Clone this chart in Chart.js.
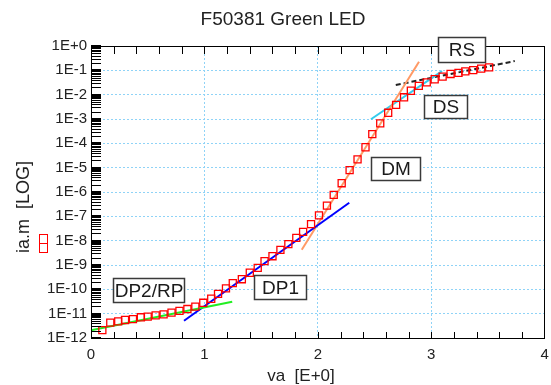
<!DOCTYPE html>
<html lang="en">
<head>
<meta charset="UTF-8">
<script src="https://cdn.jsdelivr.net/npm/chart.js"></script>
<title>F50381 Green LED</title>
<style>
  body { margin: 0; background: #fff; }
</style>
</head>
<body>
<canvas id="grafico" width="551" height="385"></canvas>
<script>
// measured data (va in V, ia.m in A)
const va = [0.10, 0.17, 0.24, 0.30, 0.37, 0.44, 0.50, 0.57, 0.64, 0.71, 0.78, 0.85, 0.92, 0.99, 1.06, 1.12,
  1.19, 1.25, 1.33, 1.40, 1.47, 1.53, 1.60, 1.67, 1.74, 1.81, 1.87, 1.94, 2.01, 2.08, 2.14, 2.21, 2.28,
  2.35, 2.42, 2.48, 2.55, 2.62, 2.69, 2.76, 2.82, 2.89, 2.96, 3.03, 3.10, 3.17, 3.24, 3.30, 3.37, 3.44, 3.51]
const ia = [2.1e-12, 4.3e-12, 4.8e-12, 5.5e-12, 6.0e-12, 7.1e-12, 7.6e-12, 8.5e-12, 9.3e-12, 1.1e-11, 1.3e-11,
  1.55e-11, 1.95e-11, 2.8e-11, 4.1e-11, 6.5e-11, 1.1e-10, 1.8e-10, 2.6e-10, 4.8e-10, 7.6e-10, 1.45e-9, 2.3e-9,
  4.2e-9, 7.2e-9, 1.3e-8, 2.3e-8, 4.8e-8, 1.1e-7, 2.75e-7, 7.6e-7, 2.3e-6, 7.9e-6, 2.2e-5, 6.9e-5, 2.4e-4,
  6.6e-4, 1.8e-3, 3.8e-3, 7.8e-3, 1.45e-2, 2.3e-2, 3.2e-2, 4.3e-2, 5.5e-2, 7.1e-2, 7.9e-2, 9.1e-2, 0.102, 0.117, 0.132]

// fit lines (end points)
const dp2X = [0, 1.245], dp2Y = [2.1e-12, 3.1e-11]
const dp1X = [0.82, 2.277], dp1Y = [5.1e-12, 3.6e-7]
const dmX = [1.858, 2.892], dmY = [4.2e-9, 0.226]
const dsX = [2.468, 3.095], dsY = [9.8e-4, 0.093]
const rsX = [2.687, 3.736], rsY = [0.025, 0.24]

// region labels
const regionNames = ['DP2/RP', 'DP1', 'DM', 'DS', 'RS']
const regionX = [0.505, 1.67, 2.686, 3.125, 3.266]
const regionY = [9.4e-11, 1.25e-10, 9.2e-6, 3.3e-3, 0.685]

const xTicks = [0, 1, 2, 3, 4]
const yTicks = [1e-12, 1e-11, 1e-10, 1e-9, 1e-8, 1e-7, 1e-6, 1e-5, 1e-4, 1e-3, 1e-2, 1e-1, 1]
const yMinor = [1, 2, 3, 4, 5, 6, 7, 8, 9]
const xMinor = [0.2, 0.4, 0.6, 0.8, 1, 1.2, 1.4, 1.6, 1.8, 2, 2.2, 2.4, 2.6, 2.8, 3, 3.2, 3.4, 3.6, 3.8]

const FONT = 'Liberation Sans, Arial, sans-serif'
const pts = (xs, ys) => xs.map((x, i) => ({ x: x, y: ys[i] }))

const fitLine = (xs, ys, color, dash) => ({
  data: pts(xs, ys),
  showLine: true,
  borderColor: color,
  borderWidth: 2,
  borderDash: dash || [],
  pointRadius: 0,
  fill: false
})

const boxSizes = { 'DP2/RP': [71, 24], 'DP1': [52, 24], 'DM': [49, 23], 'DS': [43, 23], 'RS': [47, 25] }

// axis frame and minor ticks
const frame = {
  id: 'frame',
  afterDatasetsDraw(chart) {
    const c = chart.ctx
    const a = chart.chartArea
    const sx = chart.scales.x, sy = chart.scales.y
    const L = a.left, T = a.top, B = a.bottom, R = a.right
    c.save()
    c.setLineDash([])
    c.strokeStyle = '#000000'
    c.lineWidth = 1
    c.beginPath()
    yTicks.forEach(base => {
      yMinor.forEach(k => {
        const v = base * k
        if (v > 1.0001) return
        const py = Math.round(sy.getPixelForValue(v)) + 0.5
        c.moveTo(L, py)
        c.lineTo(L + 10, py)
      })
    })
    xMinor.forEach(xv => {
      const px = Math.round(sx.getPixelForValue(xv)) + 0.5
      c.moveTo(px, B)
      c.lineTo(px, B - 6)
      c.moveTo(px, T)
      c.lineTo(px, T + 8)
    })
    c.stroke()
    // heavier decade ticks
    c.lineWidth = 2
    c.beginPath()
    yTicks.forEach(v => {
      const py = Math.round(sy.getPixelForValue(v))
      c.moveTo(L, py)
      c.lineTo(L + 10, py)
    })
    c.stroke()
    c.lineWidth = 1
    c.strokeRect(Math.round(L) + 0.5, Math.round(T) + 0.5, Math.round(R - L) - 1, Math.round(B - T))
    c.restore()
  }
}

const decorations = {
  id: 'decorations',
  afterDraw(chart) {
    const c = chart.ctx
    const sx = chart.scales.x, sy = chart.scales.y
    c.save()
    c.fillStyle = '#222'
    c.textAlign = 'center'
    c.textBaseline = 'middle'
    c.font = '19px ' + FONT
    c.fillText('F50381 Green LED', 283, 20)
    c.font = '17px ' + FONT
    c.fillText('va  [E+0]', 301, 376)
    c.save()
    c.font = '18px ' + FONT
    c.translate(24, 207)
    c.rotate(-Math.PI / 2)
    c.fillText('ia.m  [LOG]', 0, 0)
    c.restore()
    // series symbol next to the y title
    c.strokeStyle = '#ff0000'
    c.lineWidth = 1
    c.strokeRect(39.5, 234.5, 8, 9)
    c.strokeRect(39.5, 243.5, 8, 9)

    // region labels
    c.font = '19px ' + FONT
    regionNames.forEach((name, i) => {
      const cx = sx.getPixelForValue(regionX[i])
      const cy = sy.getPixelForValue(regionY[i])
      const [w, h] = boxSizes[name]
      const l = Math.round(cx - w / 2) + 0.5, t = Math.round(cy - h / 2) + 0.5
      c.fillStyle = '#fff'
      c.fillRect(l, t, w, h)
      c.strokeStyle = '#3a3a3a'
      c.lineWidth = 1.5
      c.strokeRect(l, t, w, h)
      c.fillStyle = '#1a1a1a'
      c.fillText(name, l + w / 2, t + h / 2 + 1)
    })
    c.restore()
  }
}

const ctx = document.getElementById('grafico')

const grafico = new Chart(ctx, {
  type: 'scatter',
  data: {
    datasets: [
      {
        data: pts(va, ia),
        pointStyle: 'rect',
        pointRadius: 5,
        pointBorderColor: '#ff0000',
        pointBackgroundColor: 'rgba(0,0,0,0)',
        pointBorderWidth: 1.3,
        showLine: false
      },
      fitLine(dp2X, dp2Y, '#22ee22'),
      fitLine(dp1X, dp1Y, '#0000ff'),
      fitLine(dmX, dmY, '#ff9a66'),
      fitLine(dsX, dsY, '#33ccee'),
      fitLine(rsX, rsY, '#222222', [5, 3])
    ]
  },
  plugins: [frame, decorations],
  options: {
    responsive: false,
    animation: false,
    layout: { padding: { top: 46, right: 5, left: 0, bottom: 0 } },
    plugins: {
      legend: { display: false },
      title: { display: false },
      tooltip: { enabled: false }
    },
    scales: {
      x: {
        type: 'linear',
        min: 0,
        max: 4,
        afterBuildTicks: s => { s.ticks = xTicks.map(v => ({ value: v })) },
        afterFit: s => { s.height = 47; s.paddingLeft = 0; s.paddingRight = 0 },
        grid: { color: '#8fd3f7', lineWidth: 1, drawTicks: false },
        border: { display: false, dash: [2, 2] },
        ticks: { padding: 8, color: '#222', font: { family: FONT, size: 15 } }
      },
      y: {
        type: 'logarithmic',
        min: 1e-12,
        max: 1,
        afterBuildTicks: s => { s.ticks = yTicks.map(v => ({ value: v })) },
        afterFit: s => { s.width = 91; s.paddingTop = 0; s.paddingBottom = 0 },
        grid: { color: '#8fd3f7', lineWidth: 1, drawTicks: false },
        border: { display: false, dash: [2, 2] },
        ticks: {
          padding: 4,
          color: '#222',
          font: { family: FONT, size: 15 },
          callback: v => {
            const e = Math.round(Math.log10(v))
            return '1E' + (e >= 0 ? '+' + e : e)
          }
        }
      }
    }
  }
})
</script>
</body>
</html>
